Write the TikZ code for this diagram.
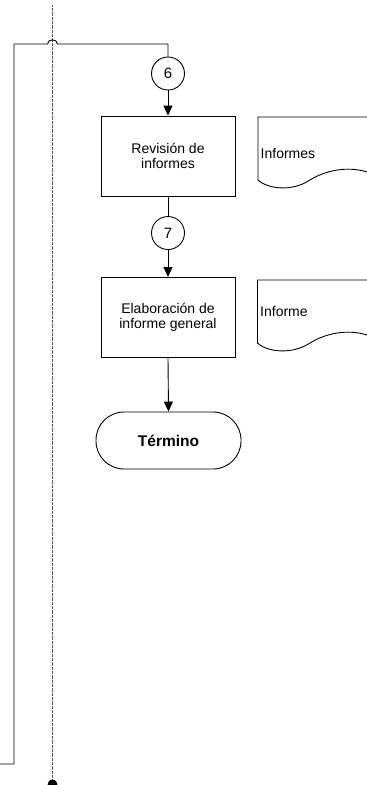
\documentclass[tikz,border=0pt]{standalone}
\usepackage{fontspec}
\setmainfont{Liberation Sans}
\usetikzlibrary{arrows.meta}
\begin{document}
\begin{tikzpicture}[x=1pt,y=-1pt,
  every node/.style={font=\fontsize{14}{14.5}\selectfont},
  line/.style={draw=black, line width=0.9pt},
  arr/.style={line, -{Triangle[width=9pt,length=10pt]}},
  conn/.style={circle, draw, line width=0.9pt, minimum size=33pt, inner sep=0pt, font=\fontsize{15}{15}\selectfont},
  proc/.style={rectangle, draw, line width=0.9pt, minimum width=134pt, minimum height=80pt, align=center, inner sep=2pt},
  term/.style={rectangle, draw, line width=0.9pt, rounded corners=28pt, minimum width=145pt, minimum height=57pt, font=\fontsize{15.5}{17}\selectfont\bfseries},
  doc/.style={draw, line width=0.9pt},
  lane/.style={draw=black!65, line width=1pt, dash pattern=on 0.8pt off 0.5pt}
]
\useasboundingbox (0,0) rectangle (367,785);

% swimlane divider
\coordinate (laneTop) at (52.5,5);
\coordinate (laneBot) at (52.5,780);
\draw[lane] (laneTop) -- (laneBot);
\fill (47.5,785) .. controls (48.5,780) and (51,779.5) .. (52.5,779.5)
  .. controls (54,779.5) and (56.5,780) .. (57.5,785) -- cycle;

% nodes
\node[conn] (c6) at (168,73.5) {6};
\node[proc] (b1) at (168,156) {Revisión de\\informes};
\node[conn] (c7) at (168,233) {7};
\node[proc] (b2) at (168,317.5) {Elaboración de\\informe general};
\node[term] (t) at (168.5,440.5) {Término};

% documents
\draw[doc] (367,117) -- (258,117) -- (258,180)
  .. controls (268,189) and (292,192) .. (310,180)
  .. controls (326,170) and (348,166) .. (367,172);
\node[anchor=west, inner sep=0pt] (d1) at (260.5,153) {Informes};
\draw[doc] (367,280) -- (257.5,280) -- (257.5,343)
  .. controls (267,352) and (292,355) .. (310,343)
  .. controls (326,333) and (348,329) .. (367,335);
\node[anchor=west, inner sep=0pt] (d2) at (260,311) {Informe};

% connectors
\coordinate (loopEnd) at (0,764);
\draw[line] (c6.north) -- (168,44) -- (57.5,44)
  .. controls (57.5,38.5) and (47.5,38.5) .. (47.5,44)
  -- (14,44) -- (14,764) -- (loopEnd);
\draw[arr] (c6.south) -- (b1.north);
\draw[line] (b1.south) -- (c7.north);
\draw[arr] (c7.south) -- (b2.north);
\draw[arr] (b2.south) -- (t.north);
\end{tikzpicture}
\end{document}
